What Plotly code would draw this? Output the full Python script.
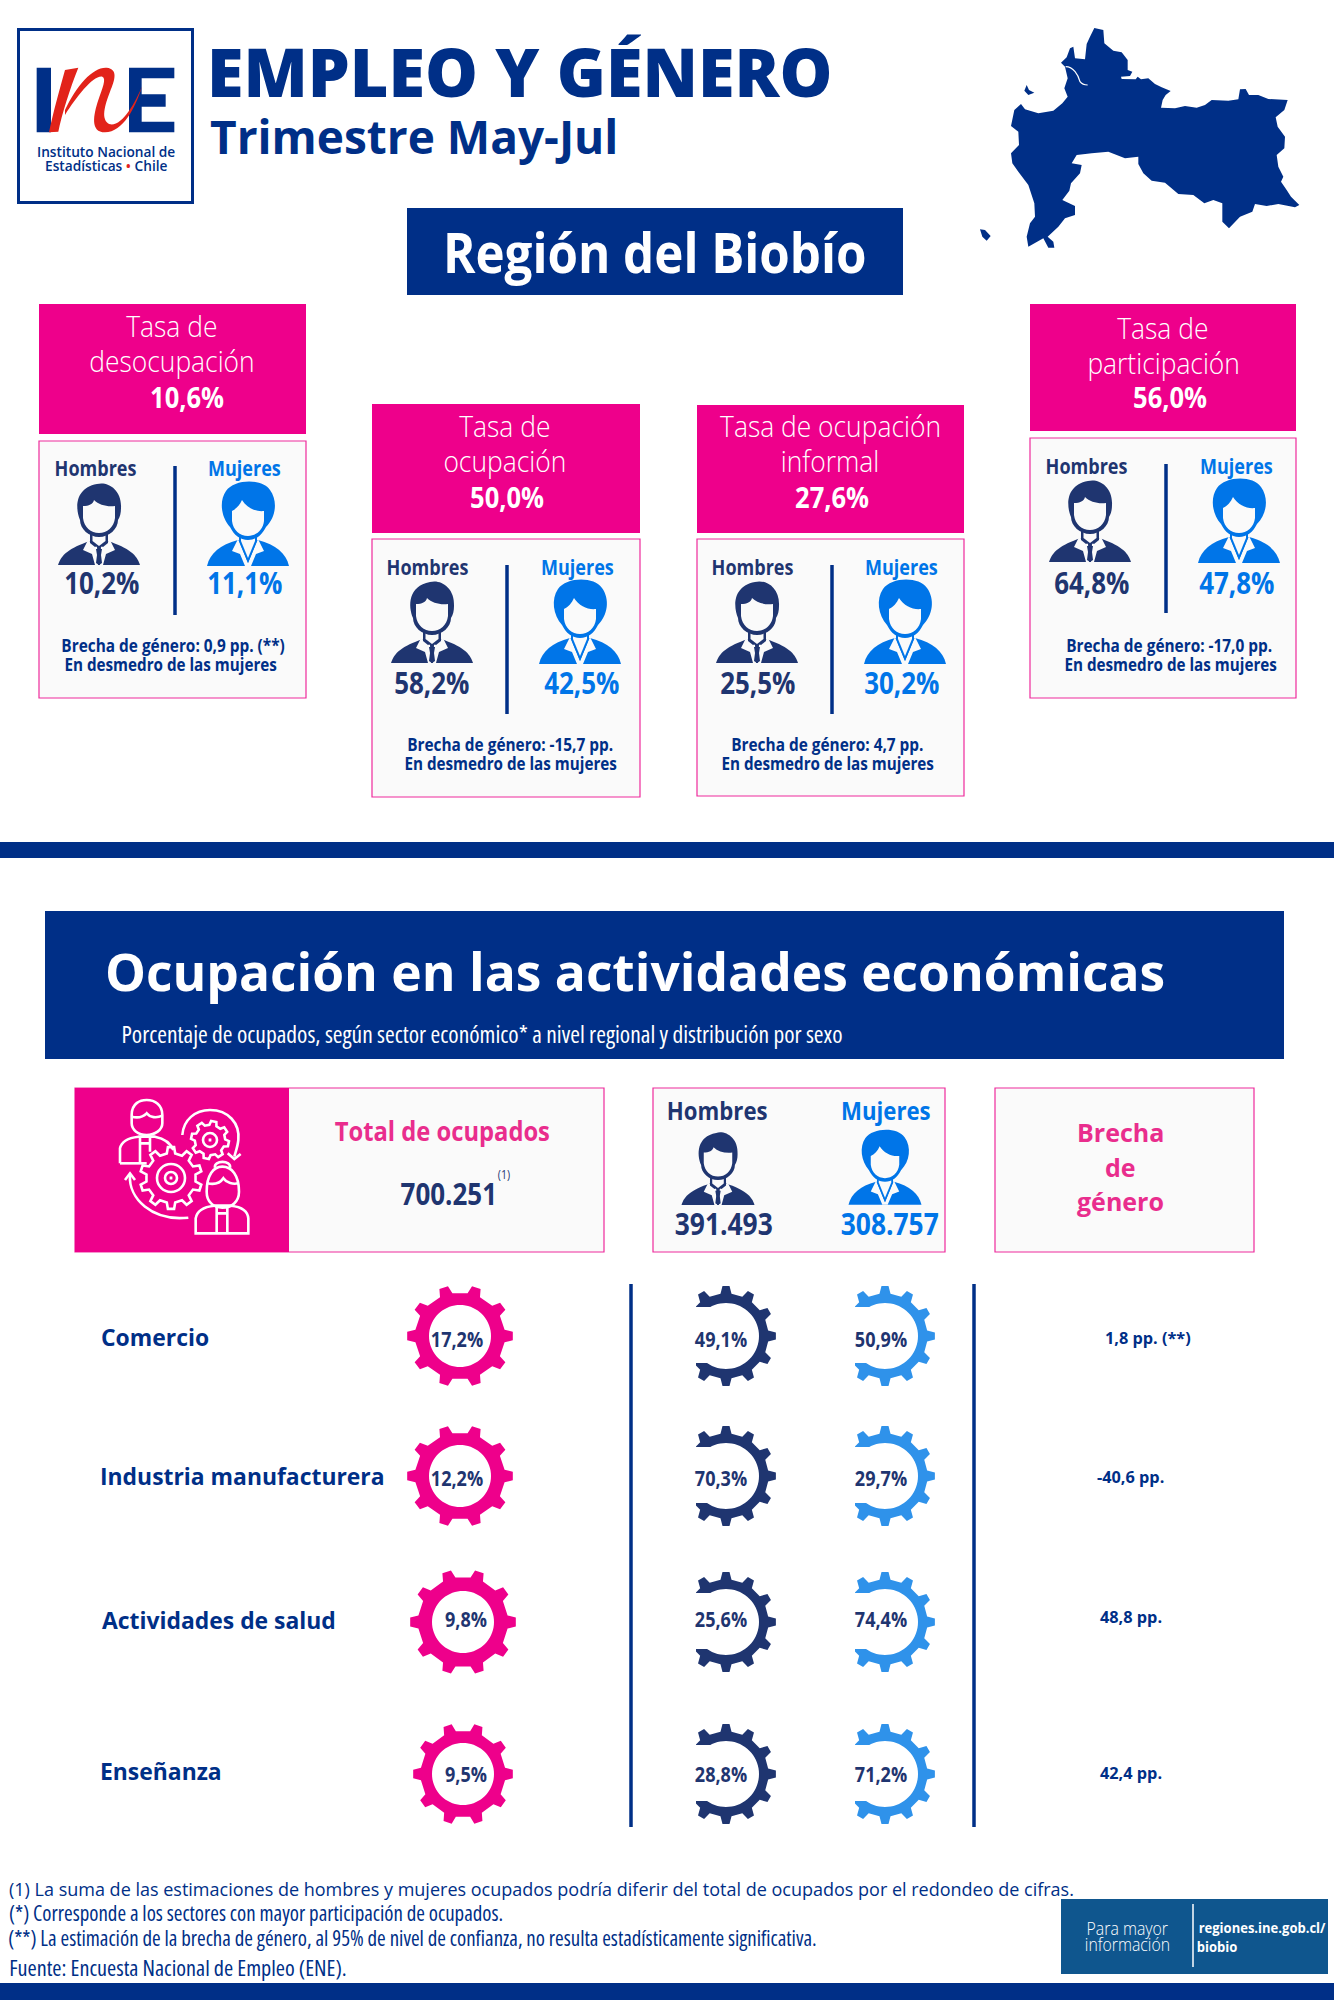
import re
import numpy as np
import plotly.graph_objects as go

# data
rate_names = [["Tasa de", "desocupación"], ["Tasa de", "ocupación"],
              ["Tasa de ocupación", "informal"], ["Tasa de", "participación"]]
rate_total = [10.6, 50.0, 27.6, 56.0]
rate_men = [10.2, 58.2, 25.5, 64.8]
rate_women = [11.1, 42.5, 30.2, 47.8]
rate_gap = ["0,9 pp. (**)", "-15,7 pp.", "4,7 pp.", "-17,0 pp."]

sectors = ["Comercio", "Industria manufacturera", "Actividades de salud", "Enseñanza"]
sector_share = [17.2, 12.2, 9.8, 9.5]
sector_men = [49.1, 70.3, 25.6, 28.8]
sector_women = [50.9, 29.7, 74.4, 71.2]
sector_gap = ["1,8 pp. (**)", "-40,6 pp.", "48,8 pp.", "42,4 pp."]

total_employed = "700.251"
men_employed = "391.493"
women_employed = "308.757"

footnotes = [
    "(1) La suma de las estimaciones de hombres y mujeres ocupados podría diferir del total de ocupados por el redondeo de cifras.",
    "(*) Corresponde a los sectores con mayor participación de ocupados.",
    "(**) La estimación de la brecha de género, al 95% de nivel de confianza, no resulta estadísticamente significativa.",
    "Fuente: Encuesta Nacional de Empleo (ENE).",
]

# colours
NAVY = "#002F87"
PINK = "#EE008B"
PINK_TXT = "#E92D8D"
PINK_LINE = "#EE2A9C"
PANEL = "#FAFAFA"
MAN = "#1F3570"
WOMAN = "#0075E8"
GEAR_WOMAN = "#2F92EA"
RED = "#E2231A"

# the css at the end narrows the text that uses these family names
WIDE = "'Open Sans'"
SEMI = "OSs, 'Open Sans'"
COND = "OSc, 'Open Sans'"

fig = go.Figure()


def pct(v):
    return f"{v:.1f}".replace(".", ",") + "%"


def rect(x0, y0, x1, y1, fill, line=None, width=1.2):
    fig.add_shape(type="rect", x0=x0, y0=y0, x1=x1, y1=y1, fillcolor=fill, layer="below",
                  line=dict(color=line, width=width) if line else dict(width=0))


def vline(x, y0, y1, color=NAVY, width=3.5):
    fig.add_shape(type="line", x0=x, x1=x, y0=y0, y1=y1, layer="below", line=dict(color=color, width=width))


def txt(x, y, text, size, color, family=SEMI, weight=700):
    fig.add_annotation(x=x, y=y, text=text, showarrow=False, xanchor="center", yanchor="middle",
                       font=dict(family=family, size=size, color=color, weight=weight))


def move(d, ox, oy, sx=1.0, sy=None):
    sy = sx if sy is None else sy
    return re.sub(r"(-?[\d.]+),(-?[\d.]+)",
                  lambda m: f"{ox + float(m[1]) * sx:.2f},{oy + float(m[2]) * sy:.2f}", d)


def path(d, fill=None, line=None, width=0):
    fig.add_shape(type="path", path=d, layer="below", fillcolor=fill or "rgba(0,0,0,0)",
                  line=dict(color=line, width=width) if line else dict(width=0))


MAN_PARTS = [
    ("M-41,82 C-38,72 -30,65 -9,58 L9,58 C30,65 38,72 41,82 Z", "ink"),
    ("M-11,57 L-2,64 L-1,82 L1,82 L2,64 L11,57 L16,67 L7,71 L4,82 L-4,82 L-7,71 L-16,67 Z", "bg"),
    ("M-3,66 L3,66 L2,72 L3,80 L0,82 L-3,80 L-2,72 Z", "ink"),
    ("M-9,45 L9,45 L9,60 L4,64 L0,62 L-4,64 L-9,60 Z", "ink"),
    ("M-6.5,48 L6.5,48 L6.5,58 L0,63 L-6.5,58 Z", "bg"),
    ("M-19,37 C-24,25 -24,5 -2,1 C8,-2 23,6 22,25 C22,30 21,34 19,37 C19,46 10,54 0,54 C-10,54 -19,46 -19,37 Z", "ink"),
    ("M-16,23 C-10,23 -6,21 -5,17 C0,22 8,24 16,23 L16,35 C15,44 8,50 0,50 C-8,50 -15,44 -16,35 Z", "bg"),
]
WOMAN_PARTS = [
    ("M-41,83 C-38,70 -28,62 -10,57 L10,57 C28,62 38,70 41,83 Z", "ink"),
    ("M-10,56 L0,80 L10,56 L16,68 L8,71 L3,83 L-3,83 L-8,71 L-16,68 Z", "bg"),
    ("M-9,44 L9,44 L9,58 L0,80 L-9,58 Z", "ink"),
    ("M-7,46 L7,46 L7,58 L0,75 L-7,58 Z", "bg"),
    ("M-18,44 C-27,34 -29,18 -22,8 C-14,-4 14,-5 22,7 C30,18 28,34 18,44 C14,52 8,57 0,57 C-8,57 -14,52 -18,44 Z", "ink"),
    ("M-16,28 C-12,26 -8,22 -6,17 C-1,25 8,29 16,28 L16,38 C15,47 8,53 0,53 C-8,53 -15,47 -16,38 Z", "bg"),
]


def person(parts, ink, cx, top, s=1.0, bg=PANEL):
    for d, kind in parts:
        path(move(d, cx, top, s), ink if kind == "ink" else bg)


def gear_path(cx, cy, tip_x, tip_y, root, tip_w, root_w, hole, teeth, start):
    # outer teeth then the hole, shapes are filled evenodd by plotly
    pts = []
    for i in range(teeth):
        a = start + i * 2 * np.pi / teeth
        for da, rad in ((-root_w, root), (-tip_w, 1.0), (tip_w, 1.0), (root_w, root)):
            pts.append((cx + tip_x * rad * np.sin(a + da), cy - tip_y * rad * np.cos(a + da)))
    d = "M" + " L".join(f"{x:.2f},{y:.2f}" for x, y in pts) + " Z"
    ring = np.linspace(0, 2 * np.pi, 72, endpoint=False)
    d += " M" + " L".join(f"{cx + hole * np.cos(t):.2f},{cy + hole * np.sin(t):.2f}" for t in ring) + " Z"
    return d


# header
rect(18.5, 29.5, 192.5, 202.5, "white", NAVY, 3)
LOGO_NAVY = ["M65,128 L108,128 L108,322 L65,322 Z",
             "M342,128 L478,128 L478,160 L380,160 L380,208 L452,208 L452,245 L380,245 L380,290 L478,290 L478,322 L342,322 Z"]
LOGO_RED = ["M150,135 L190,128 C165,190 140,270 130,320 L102,322 C115,260 135,190 150,135 Z",
            "M150,255 C185,180 235,125 275,128 C310,132 300,165 285,200 C270,240 255,285 285,298 C320,305 360,235 382,182 C360,250 325,320 270,322 C225,322 235,270 250,225 C262,190 275,160 262,155 C235,150 185,215 150,270 Z"]
for d in LOGO_NAVY:
    path(move(d, 15, 25, 1 / 3), NAVY)
for d in LOGO_RED:
    path(move(d, 15, 25, 1 / 3), RED)
txt(106, 151, "Instituto Nacional de", 13.7, NAVY, WIDE, 600)
txt(106, 165, f"Estadísticas <span style='color:{RED}'>•</span> Chile", 13.7, NAVY, WIDE, 600)

txt(519, 71, "EMPLEO Y GÉNERO", 66.5, NAVY, WIDE, 800)
txt(414, 136, "Trimestre May-Jul", 46, NAVY, WIDE, 700)

BIOBIO = ("M358,24 L385,30 L388,70 L415,92 L440,97 L458,120 L458,150 L472,155 L465,168 L438,170 L440,177 L482,178 "
          "L488,170 L498,178 L520,175 L540,192 L560,202 L587,213 L572,225 L563,240 L558,263 L600,265 L630,258 "
          "L665,263 L690,255 L710,240 L760,242 L790,238 L795,208 L812,207 L822,225 L850,225 L880,237 L938,240 "
          "L928,270 L902,292 L908,320 L930,350 L928,385 L905,405 L910,440 L925,470 L918,485 L935,510 L948,530 "
          "L973,555 L960,562 L910,552 L875,558 L840,552 L832,575 L795,590 L762,625 L742,605 L742,550 L715,540 "
          "L688,550 L655,525 L610,522 L570,488 L530,482 L505,460 L490,432 L490,410 L450,415 L400,395 L350,400 "
          "L305,405 L290,430 L320,435 L315,460 L288,490 L283,512 L262,540 L300,558 L300,585 L270,595 L250,620 "
          "L218,650 L235,665 L238,683 L220,683 L205,655 L160,680 L155,650 L165,610 L180,590 L178,550 L160,495 "
          "L130,455 L112,430 L108,400 L132,375 L130,335 L108,318 L118,270 L138,252 L150,268 L190,280 L235,272 "
          "L262,250 L278,230 L268,205 L278,175 L270,140 L258,128 L275,112 L285,85 L295,80 L300,115 L330,118 "
          "L335,72 L345,50 Z "
          "M155,195 L162,210 L178,218 L160,225 L148,212 Z M15,628 L30,630 L47,648 L35,662 L22,650 Z")
path(move(BIOBIO, 975, 20, 1 / 3), NAVY)
path(move("M272,140 C295,140 310,165 315,185 C320,192 330,195 338,195", 975, 20, 1 / 3), None, "white", 1.2)

rect(407, 208, 903, 295, NAVY)
txt(655, 251, "Región del Biobío", 56, "white", SEMI, 700)

# four rate cards, each placed by hand like the source layout
card_x = [39, 372, 697, 1030]
card_w = [267, 268, 267, 266]
head_y = [304, 404, 405, 304]
head_h = [130, 129, 128, 127]
body_y = [441, 539, 539, 438]
body_b = [698, 797, 796, 698]
line_cx = [172, 505, 830, 1163]
value_cx = [187, 507, 832, 1170]
line_y = [(325, 360, 396), (425, 460, 496), (425, 460, 496), (327, 362, 396)]
hombres_x = [95, 427, 752, 1086]
mujeres_x = [244, 577, 901, 1236]
divider_x = [175, 507, 832, 1166]
man_x = [99, 432, 757, 1090]
woman_x = [248, 580, 905, 1239]
man_val_x = [102, 432, 758, 1092]
woman_val_x = [245, 582, 902, 1237]
icon_top = [483, 581, 581, 480]
label_y = [468, 567, 567, 466]
val_y = [582, 682, 682, 582]
gap_cx = [(173, 170), (510, 510), (827, 827), (1169, 1170)]
gap_y = [(645, 664), (744, 763), (744, 763), (645, 664)]

for i in range(4):
    x0, x1 = card_x[i], card_x[i] + card_w[i]
    rect(x0, head_y[i], x1, head_y[i] + head_h[i], PINK)
    rect(x0, body_y[i], x1, body_b[i], PANEL, PINK_LINE)
    txt(line_cx[i], line_y[i][0], rate_names[i][0], 30, "white", SEMI, 300)
    txt(line_cx[i], line_y[i][1], rate_names[i][1], 30, "white", SEMI, 300)
    txt(value_cx[i], line_y[i][2], pct(rate_total[i]), 29, "white", SEMI, 700)
    txt(hombres_x[i], label_y[i], "Hombres", 20.5, MAN)
    txt(mujeres_x[i], label_y[i], "Mujeres", 20.5, WOMAN)
    vline(divider_x[i], label_y[i] - 2, label_y[i] + 147)
    person(MAN_PARTS, MAN, man_x[i], icon_top[i])
    person(WOMAN_PARTS, WOMAN, woman_x[i], icon_top[i])
    txt(man_val_x[i], val_y[i], pct(rate_men[i]), 29.5, MAN)
    txt(woman_val_x[i], val_y[i], pct(rate_women[i]), 29.5, WOMAN)
    txt(gap_cx[i][0], gap_y[i][0], "Brecha de género: " + rate_gap[i], 17.5, NAVY)
    txt(gap_cx[i][1], gap_y[i][1], "En desmedro de las mujeres", 17.3, NAVY)

rect(0, 842, 1334, 858, NAVY)

# second block
rect(45, 911, 1284, 1059, NAVY)
txt(635, 971, "Ocupación en las actividades económicas", 51.5, "white", WIDE, 700)
txt(482, 1034, "Porcentaje de ocupados, según sector económico* a nivel regional y distribución por sexo", 23.5, "white", COND, 400)

rect(75, 1088, 604, 1252, PANEL, PINK_LINE)
rect(75, 1088, 289, 1252, PINK)
ICON_LINES = [
    "M170,90 C170,55 195,45 215,45 C240,45 262,60 262,90 L262,115 C262,135 240,150 215,150 C190,150 170,135 170,115 Z",
    "M170,95 C190,100 205,95 215,85 C225,98 245,100 262,92",
    "M135,235 L135,190 C140,165 165,158 190,155 L240,155 C265,160 285,170 295,195",
    "M135,235 L215,235",
    "M195,155 L195,235 M225,155 L225,200 M197,175 L223,175",
    "M322,150 C325,105 360,75 405,75 C460,75 495,115 490,165 C488,185 482,200 478,215",
    "M458,205 L478,222 L497,207",
    "M150,285 L165,265 L180,285",
    "M165,270 C160,340 230,410 340,398",
    "M395,320 C395,270 415,245 442,245 C470,245 492,270 492,320 C492,350 470,368 442,368 C415,368 395,350 395,320 Z",
    "M397,295 C420,300 435,295 445,280 C455,295 475,298 490,295",
    "M420,248 C415,225 470,225 465,248",
    "M362,445 L362,400 C366,375 390,365 418,362 L468,362 C495,365 518,375 520,400 L520,445 Z",
    "M425,362 L425,445 M457,362 L457,445 M425,385 L457,385",
]
for d in ICON_LINES:
    path(move(d, 75, 1085, 1 / 3), None, "white", 2.6)
path(gear_path(171, 1178, 31, 31, 0.8, 0.1, 0.17, 0.1, 10, 0), None, "white", 2.6)
path(gear_path(210, 1140, 19, 19, 0.8, 0.14, 0.24, 0.1, 8, 0.2), None, "white", 2.6)
for cx, cy, r in ((171, 1178, 14), (171, 1178, 6), (210, 1140, 7)):
    fig.add_shape(type="circle", x0=cx - r, x1=cx + r, y0=cy - r, y1=cy + r, layer="below",
                  line=dict(color="white", width=2.6))

txt(442, 1130, "Total de ocupados", 27, PINK_TXT)
txt(449, 1193, total_employed, 29.5, MAN)
txt(504, 1174, "(1)", 12, MAN, SEMI, 400)

rect(653, 1088, 945, 1252, PANEL, PINK_LINE)
txt(717, 1110, "Hombres", 25.2, MAN)
txt(886, 1110, "Mujeres", 25.2, WOMAN)
person(MAN_PARTS, MAN, 718, 1132, 0.89)
person(WOMAN_PARTS, WOMAN, 885, 1131, 0.89)
txt(723, 1223, men_employed, 30, MAN)
txt(889, 1223, women_employed, 30, WOMAN)

rect(995, 1088, 1254, 1252, PANEL, PINK_LINE)
for y, word in zip((1132, 1167, 1201), ("Brecha", "de", "género")):
    txt(1120, y, word, 25, PINK_TXT, WIDE, 700)

# sector rows
label_cx = [155, 242, 219, 161]
label_ys = [1337, 1476, 1620, 1771]
gear_cx = [460, 460, 463, 463]
gear_ys = [1336, 1476, 1622, 1774]
gear_rx = [53, 53, 53, 50]
gear_ry = [51, 51, 53, 51]
value_ys = [1342, 1481, 1622, 1777]
share_xs = [457, 457, 466, 466]
gap_xs = [1148, 1130, 1131, 1131]
gap_ys = [1338, 1477, 1617, 1773]

vline(631, 1284, 1827)
vline(974, 1284, 1827)
for i, name in enumerate(sectors):
    txt(label_cx[i], label_ys[i], name, 22.9, NAVY, WIDE, 700)
    path(gear_path(gear_cx[i], gear_ys[i], gear_rx[i], gear_ry[i], 0.85, 0.085, 0.145, 31, 10, np.pi / 10), PINK)
    path(gear_path(726, gear_ys[i], 50, 50, 0.85, 0.07, 0.13, 33, 12, 0), MAN)
    path(gear_path(885, gear_ys[i], 50, 50, 0.85, 0.07, 0.13, 33, 12, 0), GEAR_WOMAN)
    # the share gears are open on the left, where their value sits
    rect(670, gear_ys[i] - 55, 696, gear_ys[i] + 55, "white")
    rect(829, gear_ys[i] - 55, 855, gear_ys[i] + 55, "white")
    rect(690, gear_ys[i] - 29, 726, gear_ys[i] + 27, "white")
    rect(849, gear_ys[i] - 29, 885, gear_ys[i] + 27, "white")
    txt(gap_xs[i], gap_ys[i], sector_gap[i], 16.3, NAVY, WIDE, 700)

value_font = dict(family=SEMI, size=20.5, color=MAN, weight=700)
for xs, vals in ((share_xs, sector_share), ([721] * 4, sector_men), ([881] * 4, sector_women)):
    fig.add_trace(go.Scatter(x=xs, y=value_ys, mode="text", text=[pct(v) for v in vals],
                             textposition="middle center", textfont=value_font,
                             hoverinfo="skip", showlegend=False, cliponaxis=False))

# notes and footer
txt(541, 1889, footnotes[0], 18, NAVY, WIDE, 400)
txt(256, 1913, footnotes[1], 20.9, NAVY, COND, 400)
txt(412, 1938, footnotes[2], 20.9, NAVY, COND, 400)
txt(178, 1967, footnotes[3], 22.2, NAVY, COND, 400)

rect(1061, 1899, 1328, 1974, "#0F568E")
vline(1193, 1904, 1967, "white", 1.5)
txt(1127, 1928, "Para mayor", 18, "white", SEMI, 300)
txt(1127, 1944, "información", 18, "white", SEMI, 300)
txt(1262, 1927, "regiones.ine.gob.cl/", 14.8, "white", SEMI, 700)
txt(1217, 1946, "biobio", 14.8, "white", SEMI, 700)

rect(0, 1983, 1334, 2000, NAVY)

fig.update_xaxes(range=[0, 1334], visible=False, fixedrange=True)
fig.update_yaxes(range=[2000, 0], visible=False, fixedrange=True)
fig.update_layout(width=1334, height=2000, margin=dict(l=0, r=0, t=0, b=0),
                  paper_bgcolor="white", plot_bgcolor="white", showlegend=False)

post = """
document.body.style.margin = '0';
var css = document.createElement('style');
css.textContent = "text[style*='OSc']{font-stretch:75%} "
  + "text[style*='OSs']{transform-box:fill-box;transform-origin:center;transform:scaleX(.88)}";
document.head.appendChild(css);
"""
fig.write_html("out.html", config={"displayModeBar": False}, post_script=post)
